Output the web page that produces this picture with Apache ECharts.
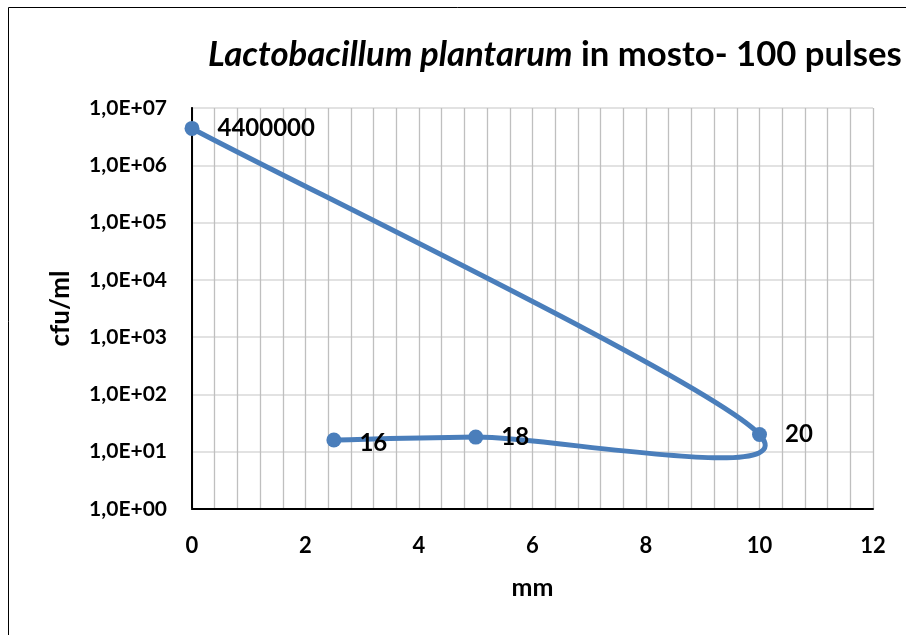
<!DOCTYPE html>
<html><head><meta charset="utf-8">
<script src="https://cdn.jsdelivr.net/npm/echarts@6/dist/echarts.min.js"></script>
<style>html,body{margin:0;padding:0;background:#fff}#c{width:906px;height:635px}</style>
</head><body><div id="c"></div>
<script>
const xValues = [0, 10, 5, 2.5];
const yValues = [4400000, 20, 18, 16];
const xTicks = [0, 2, 4, 6, 8, 10, 12];
const yTickExponents = [0, 1, 2, 3, 4, 5, 6, 7];

const FONT = 'Lato';
const BLUE = '#4a7ebb';
const points = xValues.map((x, i) => [x, yValues[i]]);
const labelData = points.map((p, i) => ({
  value: p,
  label: i === 3 ? { offset: [0, 3] } : {}
}));

// Smooth (Catmull-Rom style) segment between point i and i+1, positioned via the axes' own scales.
function renderSegment(params, api) {
  const i = params.dataIndex;
  const n = points.length;
  if (i >= n - 1) return null;
  const P = j => api.coord(points[Math.max(0, Math.min(n - 1, j))]);
  const p0 = P(i - 1), p1 = P(i), p2 = P(i + 1), p3 = P(i + 2);
  const k = 1 / 6;
  return {
    type: 'bezierCurve',
    shape: {
      x1: p1[0], y1: p1[1], x2: p2[0], y2: p2[1],
      cpx1: p1[0] + (p2[0] - p0[0]) * k, cpy1: p1[1] + (p2[1] - p0[1]) * k,
      cpx2: p2[0] - (p3[0] - p1[0]) * k, cpy2: p2[1] - (p3[1] - p1[1]) * k
    },
    style: { fill: null, stroke: BLUE, lineWidth: 5, lineCap: 'round', lineJoin: 'round' }
  };
}

const chart = echarts.init(document.getElementById('c'), null, { renderer: 'canvas' });
chart.setOption({
  animation: false,
  backgroundColor: '#fff',
  textStyle: { fontFamily: FONT },
  title: {
    text: '{i|Lactobacillum plantarum}{b| in mosto- 100 pulses}',
    left: 203, top: 32,
    textStyle: {
      rich: {
        i: { fontFamily: FONT, fontSize: 34.7, fontWeight: 'bold', fontStyle: 'italic', color: '#000' },
        b: { fontFamily: FONT, fontSize: 34.7, fontWeight: 'bold', color: '#000' }
      }
    }
  },
  graphic: [
    { type: 'rect', shape: { x: 8.5, y: 7.5, width: 1000, height: 1000 }, style: { fill: null, stroke: '#000', lineWidth: 1 }, z: 100 }
  ],
  grid: { left: 192, right: 33, top: 108, bottom: 126, containLabel: false },
  xAxis: [{
    type: 'value', min: xTicks[0], max: xTicks[xTicks.length - 1], interval: 2,
    name: 'mm', nameLocation: 'middle', nameGap: 66, nameMoveOverlap: false,
    nameTextStyle: { fontFamily: FONT, fontSize: 25, fontWeight: 'bold', color: '#000' },
    axisLine: { show: true, onZero: false, lineStyle: { color: '#d9d9d9', width: 1.5 } },
    axisTick: { show: false },
    axisLabel: { margin: 26, fontFamily: FONT, fontSize: 22, fontWeight: 'bold', color: '#000' },
    splitLine: { show: true, lineStyle: { color: '#bfbfbf', width: 1.3 } },
    minorTick: { show: false, splitNumber: 5 },
    minorSplitLine: { show: true, lineStyle: { color: '#bfbfbf', width: 1.3 } }
  }, {
    type: 'value', position: 'top', min: 0, max: 1,
    axisLine: { show: true, lineStyle: { color: '#000', width: 2 } },
    axisTick: { show: false }, axisLabel: { show: false }, splitLine: { show: false }
  }],
  yAxis: [{
    type: 'log', logBase: 10,
    min: Math.pow(10, yTickExponents[0]), max: Math.pow(10, yTickExponents[yTickExponents.length - 1]),
    name: 'cfu/ml', nameLocation: 'middle', nameGap: 118, nameRotate: 90, nameMoveOverlap: false,
    nameTextStyle: { fontFamily: FONT, fontSize: 26, fontWeight: 'bold', color: '#000' },
    axisLine: { show: true, lineStyle: { color: '#000', width: 1.5 } },
    axisTick: { show: false },
    axisLabel: {
      margin: 25, fontFamily: FONT, fontSize: 21, fontWeight: 'bold', color: '#000',
      formatter: v => {
        const e = Math.round(Math.log10(v));
        return '1,0E+' + (e < 10 ? '0' : '') + e;
      }
    },
    splitLine: { show: true, lineStyle: { color: '#d9d9d9', width: 1.5 } }
  }, {
    type: 'value', position: 'right', min: 0, max: 1,
    axisLine: { show: true, lineStyle: { color: '#000', width: 2 } },
    axisTick: { show: false }, axisLabel: { show: false }, splitLine: { show: false }
  }],
  series: [{
    type: 'custom',
    renderItem: renderSegment,
    data: points,
    z: 2,
    silent: true
  }, {
    type: 'scatter',
    data: labelData,
    z: 3,
    symbol: 'circle', symbolSize: 15,
    itemStyle: { color: BLUE, opacity: 1 },
    label: {
      show: true, position: 'right', distance: 18,
      fontFamily: FONT, fontSize: 24, fontWeight: 'bold', color: '#000',
      formatter: p => String(p.value[1])
    }
  }]
});
</script></body></html>
